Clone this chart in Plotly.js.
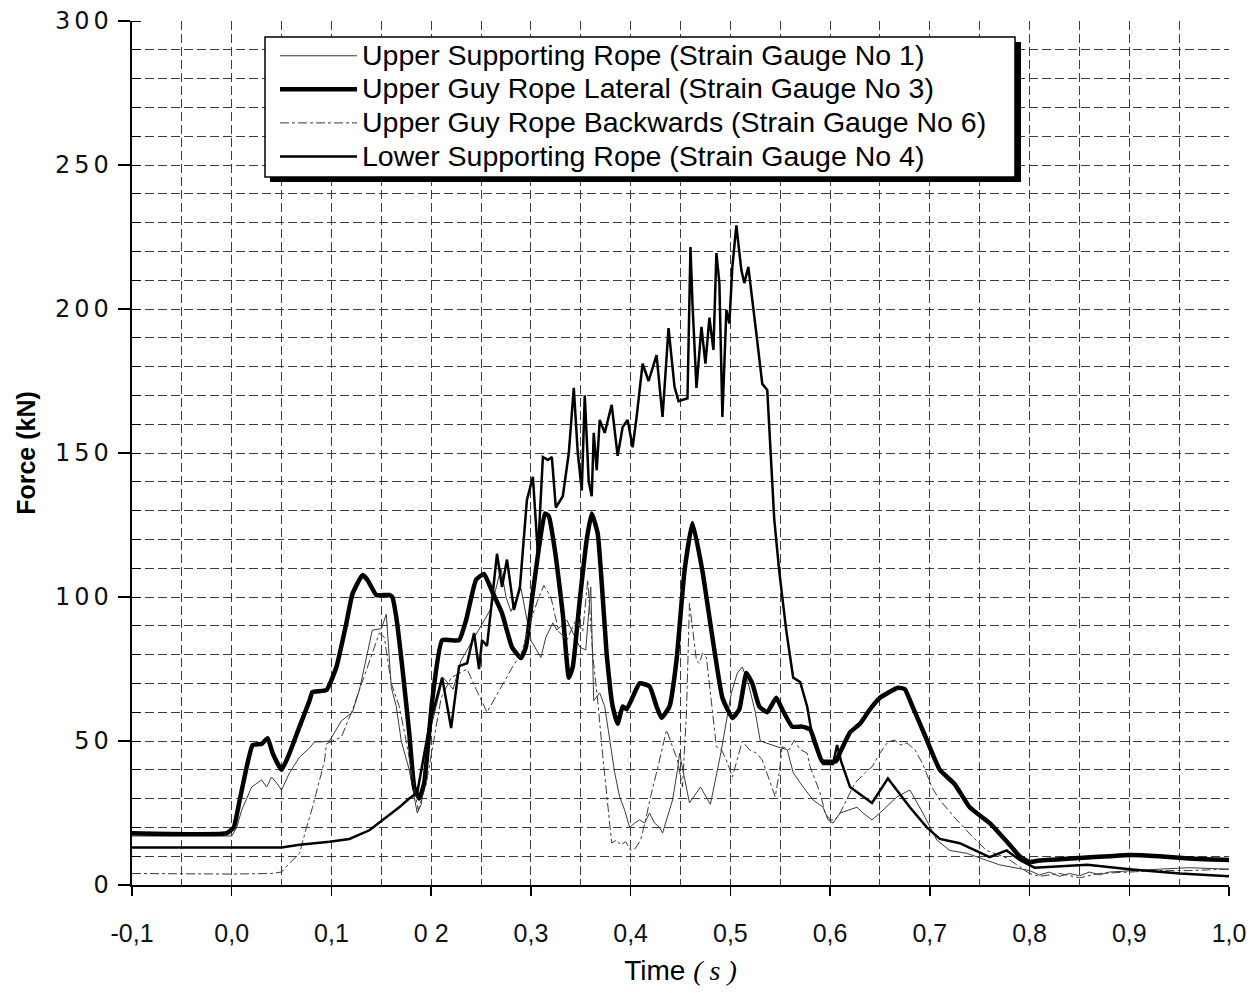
<!DOCTYPE html>
<html>
<head>
<meta charset="utf-8">
<script src="https://cdn.plot.ly/plotly-3.0.1.min.js"></script>
<style>
html,body{margin:0;padding:0;background:#fff;}
#chart{width:1253px;height:993px;}
</style>
</head>
<body>
<div id="chart"></div>
<script>
// ---- series names ----
const seriesNames = [
  "Upper Supporting Rope (Strain Gauge No 1)",
  "Upper Guy Rope Lateral (Strain Gauge No 3)",
  "Upper Guy Rope Backwards (Strain Gauge No 6)",
  "Lower Supporting Rope (Strain Gauge No 4)"
];

// ---- Upper Supporting Rope (SG1), time [s] / force [kN] ----
const tSG1 = [-0.1,0.0,0.005,0.01,0.02,0.03,0.035,0.04,0.045,0.05,0.058,0.068,0.078,0.083,0.09,0.098,0.11,0.121,0.128,0.135,0.141,0.15,0.155,0.16,0.165,0.17,0.178,0.186,0.19,0.195,0.2,0.205,0.212,0.222,0.23,0.24,0.25,0.26,0.27,0.275,0.28,0.29,0.3,0.31,0.315,0.322,0.326,0.336,0.349,0.355,0.36,0.363,0.369,0.374,0.384,0.389,0.394,0.399,0.404,0.409,0.414,0.419,0.424,0.429,0.432,0.437,0.442,0.447,0.449,0.459,0.47,0.48,0.49,0.501,0.507,0.512,0.518,0.525,0.53,0.547,0.557,0.563,0.573,0.583,0.593,0.598,0.603,0.61,0.627,0.633,0.642,0.65,0.66,0.667,0.68,0.693,0.707,0.72,0.737,0.75,0.77,0.8,0.81,0.82,0.83,0.84,0.85,0.86,0.87,0.88,0.9,0.93,0.96,1.0];
const fSG1 = [17,17,20,26,34,36.5,34,37.5,35.4,33,39,44.4,47.6,49.7,49.7,50,57,60,67.7,79,88.5,89,94,68.7,62,50,40,25,28,40,55,62,72,68,78,84,90,96,110,100,95,103,85,79,86,91,88.5,92,82.6,81.6,103.5,64,66.7,62,39,30.6,26,20,21.5,22.6,21.5,25,21.5,20,18,23.6,29.5,40,45.8,28.5,34,28,45,66.7,73.6,75.7,70,60,50,48,47,39,34,29.5,27,22.6,21.5,25,27,25,22.6,25,28.5,30.6,33,25,15.6,12,11,9.4,7,5,3.5,4.5,3,4,3.2,4.5,3.5,4.5,5,5.5,6,5.5,6];

// ---- Upper Guy Rope Lateral (SG3) ----
const tSG3 = [-0.1,-0.005,0.002,0.008,0.015,0.021,0.03,0.036,0.041,0.05,0.058,0.068,0.078,0.081,0.095,0.105,0.115,0.121,0.131,0.136,0.145,0.158,0.161,0.165,0.171,0.178,0.183,0.188,0.193,0.201,0.211,0.228,0.235,0.245,0.253,0.261,0.271,0.281,0.29,0.295,0.301,0.308,0.314,0.318,0.325,0.332,0.338,0.342,0.349,0.356,0.361,0.367,0.372,0.376,0.38,0.382,0.387,0.392,0.396,0.409,0.419,0.426,0.431,0.439,0.446,0.454,0.462,0.472,0.482,0.492,0.502,0.509,0.516,0.522,0.529,0.537,0.546,0.552,0.562,0.572,0.58,0.592,0.606,0.61,0.62,0.63,0.64,0.65,0.668,0.675,0.682,0.695,0.71,0.725,0.74,0.76,0.78,0.79,0.8,0.81,0.85,0.88,0.9,0.93,0.95,0.97,1.0];
const fSG3 = [18,18,20,29.5,41,48.6,49,51,45.8,40,45.8,55,64,67,67.7,75.7,91,101,107.6,106,100.7,100.7,100,93,75.7,52.8,34,30,35.4,64,85,85,92,106,108,102,94.4,82.6,78.8,82.6,99,117,129,128,114,94,72,75.7,99,120,129,122,100,80,66.7,62,56,62,61,70,69,62,58,62,78,109,125.7,109,86,65,58,61,73.6,70,62,60,65,61,55,55,54,43,43,46,53,56,61,65,68.5,68,62.5,52,40,35,27,21.5,14,10,8,8.5,9.4,10,10.4,10,9.5,9,8.7];

// ---- Upper Guy Rope Backwards (SG6) ----
const tSG6 = [-0.1,0.0,0.04,0.05,0.058,0.068,0.075,0.081,0.093,0.095,0.11,0.121,0.141,0.148,0.153,0.16,0.168,0.175,0.18,0.187,0.195,0.2,0.21,0.22,0.236,0.245,0.256,0.269,0.282,0.29,0.3,0.307,0.313,0.32,0.328,0.336,0.345,0.352,0.357,0.362,0.367,0.372,0.377,0.381,0.386,0.39,0.395,0.4,0.405,0.41,0.415,0.42,0.429,0.436,0.442,0.447,0.452,0.456,0.459,0.462,0.466,0.469,0.472,0.476,0.481,0.486,0.491,0.496,0.502,0.507,0.512,0.519,0.526,0.532,0.539,0.545,0.549,0.552,0.559,0.564,0.57,0.577,0.58,0.59,0.595,0.6,0.605,0.61,0.62,0.625,0.635,0.642,0.65,0.658,0.665,0.67,0.677,0.685,0.693,0.702,0.71,0.727,0.743,0.757,0.777,0.79,0.8,0.81,0.83,0.85,0.87,0.9,0.93,0.96,1.0];
const fSG6 = [4,3.8,4,4.5,7.6,11,20,27,43,49,51.4,60.8,80.5,87.5,86,70,62,50,40,26,35,45,65,72,75,68,60,68,76,80,92,99,104,100,88,85,92,88,106,80,64,45,27,14.6,15.6,13.9,15,12,12.8,15.6,22.6,30.6,43.4,53.8,48,43.4,34,60,97.8,89.6,78,77,80.5,79,63,48,47,43.4,37.5,43.4,50,47,45.8,43.4,36.5,30.6,39,48,47,50.3,47,45.8,41,32,25,22.6,22.6,25,32,35.4,39,41,45.8,49.7,50.3,48.6,49.3,47,42,34,29.5,22.6,16.7,12,9.4,6.3,4,3,4,2.5,4,4.5,5,5,5.5];

// ---- Lower Supporting Rope (SG4) ----
const tSG4 = [-0.1,0.0,0.05,0.068,0.098,0.118,0.138,0.153,0.168,0.178,0.186,0.198,0.211,0.22,0.228,0.236,0.243,0.248,0.251,0.256,0.261,0.266,0.271,0.276,0.283,0.289,0.296,0.302,0.307,0.312,0.317,0.321,0.325,0.332,0.338,0.343,0.347,0.351,0.354,0.358,0.361,0.363,0.366,0.369,0.374,0.381,0.387,0.392,0.397,0.402,0.406,0.412,0.418,0.426,0.432,0.438,0.444,0.448,0.457,0.46,0.462,0.466,0.471,0.475,0.479,0.483,0.486,0.489,0.492,0.496,0.499,0.502,0.506,0.511,0.514,0.518,0.526,0.532,0.537,0.544,0.549,0.556,0.563,0.57,0.577,0.583,0.593,0.603,0.607,0.611,0.62,0.642,0.658,0.68,0.697,0.71,0.73,0.76,0.777,0.79,0.805,0.858,0.9,0.951,1.0];
const fSG4 = [13,13,13,14,15,16,19,23,27,30,32,55,72,54.5,76,77,87.5,75,85,83,99,115,103.5,113,95.5,103.5,133.7,141.7,115,148.6,147.6,148.6,131,135,150,172.6,150,137,170,140,135,157,144,161.5,157,166.7,149,159,161.5,152,162.5,181,175,184,162.5,193.4,173,168,169,221.5,202,172.6,193.8,181,197,185.8,219.4,209,162.5,199.7,195,214.6,229,213.5,209,214.6,191.7,174,171.9,127,109,88.5,72,70.5,62,50,42,42,48.6,43,34,28.5,37,27,20,16,14.5,9.7,12,8.7,6,7,5.5,4,3];

// ---- axis ticks ----
const xTickVals = [-0.1,0.0,0.1,0.2,0.3,0.4,0.5,0.6,0.7,0.8,0.9,1.0];
const xTickText = ["-0,1","0,0","0,1","0 2","0,3","0,4","0,5","0,6","0,7","0,8","0,9","1,0"];
const yTickVals = [0,50,100,150,200,250,300];
const yTickText = ["0","50","100","150","200","250","300"];

const legendSize = 28.5;
function legendName(s){ return '<span style="font-size:' + legendSize + 'px">' + s + '</span>'; }

const traces = [
  {x:tSG1, y:fSG1, name:legendName(seriesNames[0]), type:"scatter", mode:"lines",
   line:{color:"#3a3a3a", width:1}},
  {x:tSG3, y:fSG3, name:legendName(seriesNames[1]), type:"scatter", mode:"lines",
   line:{color:"#000000", width:4.5, shape:"spline", smoothing:0.4}},
  {x:tSG6, y:fSG6, name:legendName(seriesNames[2]), type:"scatter", mode:"lines",
   line:{color:"#3a3a3a", width:1, dash:"dashdot"}},
  {x:tSG4, y:fSG4, name:legendName(seriesNames[3]), type:"scatter", mode:"lines",
   line:{color:"#000000", width:2.5}}
];

const L = 132, R = 24, T = 21, B = 108;
const W = 1253, H = 993;
const pw = W - L - R, ph = H - T - B;
function px2x(p){ return (p - L)/pw; }
function py2y(p){ return (H - B - p)/ph; }

const yTickTextStyled = yTickText.map(s => '<span style="letter-spacing:4px">' + s + '</span>');

const gridStyle = {gridcolor:"#3c3c3c", gridwidth:1, griddash:"9px,4px"};

const layout = {
  width: W, height: H,
  margin:{l:L, r:R, t:T, b:B, pad:0},
  paper_bgcolor:"#ffffff", plot_bgcolor:"#ffffff",
  showlegend:true,
  font:{family:"Liberation Sans, Arial, sans-serif", color:"#000"},
  xaxis:Object.assign({
    range:[-0.1,1.0], autorange:false,
    tickmode:"array", tickvals:xTickVals, ticktext:xTickText,
    tickfont:{family:"Liberation Sans Narrow, Liberation Sans, sans-serif", size:25, color:"#111"},
    ticks:"outside", ticklen:9, tickwidth:1.5, tickcolor:"#000",
    ticklabelstandoff:16,
    showline:true, linecolor:"#000", linewidth:2,
    showgrid:true,
    zeroline:false,
    minor:Object.assign({dtick:0.05, tick0:0, showgrid:true, ticks:""}, gridStyle),
    title:{text:'Time <span style="font-family:Liberation Serif;font-style:italic">( s )</span>',
           font:{family:"Liberation Sans, sans-serif", size:28, color:"#000"}, standoff:14}
  }, gridStyle),
  yaxis:Object.assign({
    range:[0,300], autorange:false,
    tickmode:"array", tickvals:yTickVals, ticktext:yTickTextStyled,
    tickfont:{family:"DejaVu Sans, sans-serif", size:24, color:"#111"},
    ticks:"outside", ticklen:12, tickwidth:1.5, tickcolor:"#000",
    showline:true, linecolor:"#000", linewidth:2.5,
    showgrid:true,
    zeroline:false,
    minor:Object.assign({dtick:10, tick0:0, showgrid:true,
           ticks:"inside", ticklen:9, tickwidth:1, tickcolor:"#000"}, gridStyle),
    title:{text:"<b>Force (kN)</b>", font:{family:"Liberation Sans, sans-serif", size:25, color:"#000"}, standoff:12}
  }, gridStyle),
  legend:{
    x:px2x(275), y:py2y(34), xanchor:"left", yanchor:"top",
    bgcolor:"rgba(0,0,0,0)", borderwidth:0,
    font:{family:"Liberation Sans, Arial, sans-serif", size:23.5, color:"#000"},
    tracegroupgap:0, itemwidth:77
  },
  shapes:[
    {type:"rect", xref:"paper", yref:"paper",
     x0:px2x(270), x1:px2x(1021), y0:py2y(182), y1:py2y(42),
     fillcolor:"#000", line:{width:0}, layer:"above"},
    {type:"rect", xref:"paper", yref:"paper",
     x0:px2x(265), x1:px2x(1015), y0:py2y(177), y1:py2y(37),
     fillcolor:"#fff", line:{color:"#000", width:1.5}, layer:"above"}
  ]
};

Plotly.newPlot("chart", traces, layout, {displayModeBar:false, staticPlot:true});
</script>
</body>
</html>
